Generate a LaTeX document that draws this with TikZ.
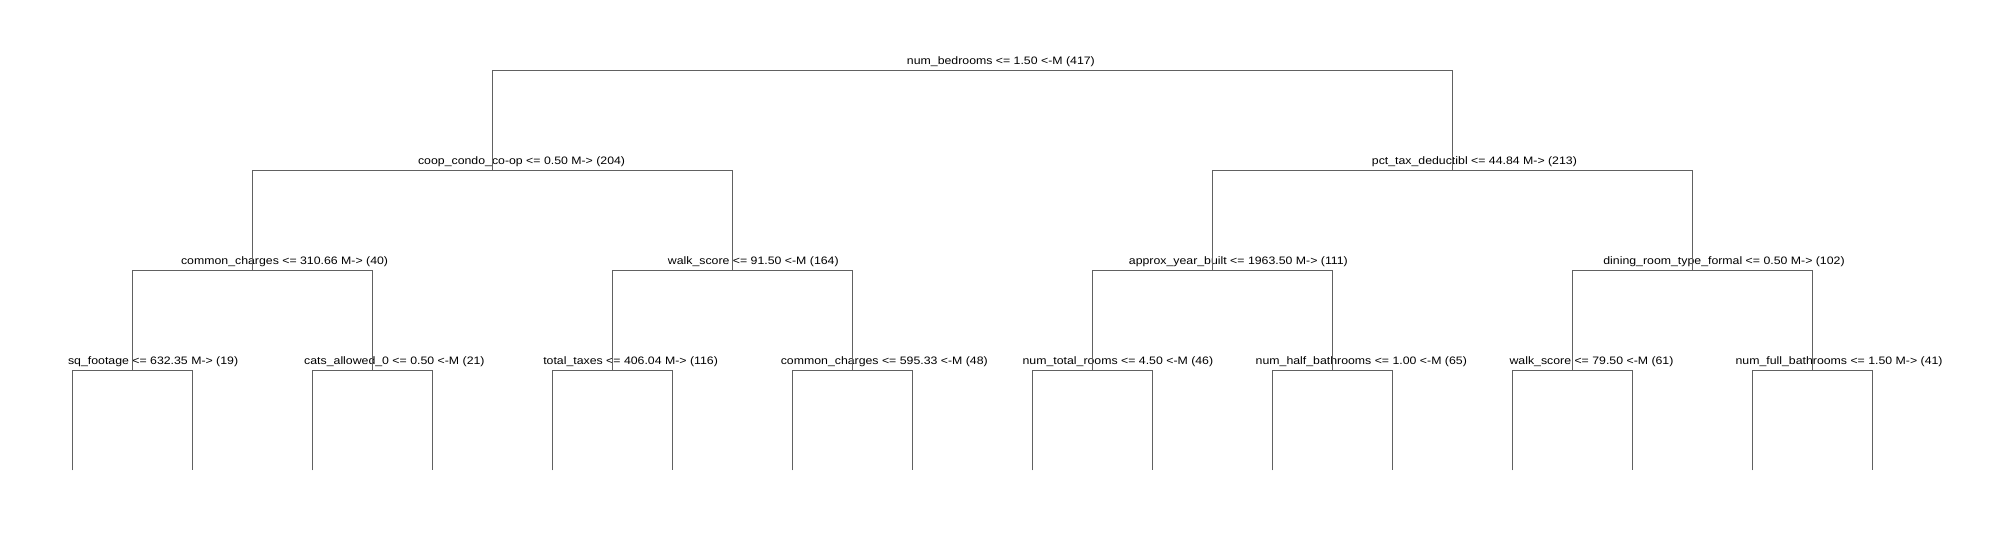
\documentclass[tikz,border=0pt]{standalone}
\usepackage{fontspec}
\setmainfont{Liberation Sans}[FakeStretch=1.14]
\usetikzlibrary{positioning}

\tikzset{
	branch/.style={draw=black!62,line width=1pt},
	split/.style={anchor=base,inner sep=0pt,font=\fontsize{10.8}{12}\selectfont}
}

\begin{document}
\begin{tikzpicture}[x=1pt,y=-1pt]
	\useasboundingbox (0,0) rectangle (2011,540);
	% split points
	\coordinate (root) at (972.3,70.3);
	\coordinate (coop) at (492.3,170.3);
	\coordinate (taxded) at (1452.3,170.3);
	\coordinate (charges1) at (252.3,270.3);
	\coordinate (walk1) at (732.3,270.3);
	\coordinate (yearbuilt) at (1212.3,270.3);
	\coordinate (dining) at (1692.3,270.3);
	\coordinate (sqft) at (132.3,370.3);
	\coordinate (cats) at (372.3,370.3);
	\coordinate (taxes) at (612.3,370.3);
	\coordinate (charges2) at (852.3,370.3);
	\coordinate (rooms) at (1092.3,370.3);
	\coordinate (halfbath) at (1332.3,370.3);
	\coordinate (walk2) at (1572.3,370.3);
	\coordinate (fullbath) at (1812.3,370.3);
	\foreach \i in {1,...,16}
		\coordinate (leaf\i) at ({72.3+120*(\i-1)},470.4);
	
	% labels
	\node[split] at (1000.9,64.8) (t-root) {num\_bedrooms <= 1.50 <-M (417)};
	\node[split] at (521.6,164.8) (t-coop) {coop\_condo\_co-op <= 0.50 M-> (204)};
	\node[split] at (1474.4,164.8) (t-taxded) {pct\_tax\_deductibl <= 44.84 M-> (213)};
	\node[split] at (284.6,264.8) (t-charges1) {common\_charges <= 310.66 M-> (40)};
	\node[split] at (753.3,264.8) (t-walk1) {walk\_score <= 91.50 <-M (164)};
	\node[split] at (1238.4,264.8) (t-yearbuilt) {approx\_year\_built <= 1963.50 M-> (111)};
	\node[split] at (1724,264.8) (t-dining) {dining\_room\_type\_formal <= 0.50 M-> (102)};
	\node[split] at (153.1,364.8) (t-sqft) {sq\_footage <= 632.35 M-> (19)};
	\node[split] at (394.4,364.8) (t-cats) {cats\_allowed\_0 <= 0.50 <-M (21)};
	\node[split] at (630.6,364.8) (t-taxes) {total\_taxes <= 406.04 M-> (116)};
	\node[split] at (884.3,364.8) (t-charges2) {common\_charges <= 595.33 <-M (48)};
	\node[split] at (1117.9,364.8) (t-rooms) {num\_total\_rooms <= 4.50 <-M (46)};
	\node[split] at (1361.3,364.8) (t-halfbath) {num\_half\_bathrooms <= 1.00 <-M (65)};
	\node[split] at (1591.5,364.8) (t-walk2) {walk\_score <= 79.50 <-M (61)};
	\node[split] at (1839.1,364.8) (t-fullbath) {num\_full\_bathrooms <= 1.50 M-> (41)};
	
	% branches
	\draw[branch] (coop) |- (root) -| (taxded);
	\draw[branch] (charges1) |- (coop) -| (walk1);
	\draw[branch] (yearbuilt) |- (taxded) -| (dining);
	\draw[branch] (sqft) |- (charges1) -| (cats);
	\draw[branch] (taxes) |- (walk1) -| (charges2);
	\draw[branch] (rooms) |- (yearbuilt) -| (halfbath);
	\draw[branch] (walk2) |- (dining) -| (fullbath);
	\draw[branch] (leaf1) |- (sqft) -| (leaf2);
	\draw[branch] (leaf3) |- (cats) -| (leaf4);
	\draw[branch] (leaf5) |- (taxes) -| (leaf6);
	\draw[branch] (leaf7) |- (charges2) -| (leaf8);
	\draw[branch] (leaf9) |- (rooms) -| (leaf10);
	\draw[branch] (leaf11) |- (halfbath) -| (leaf12);
	\draw[branch] (leaf13) |- (walk2) -| (leaf14);
	\draw[branch] (leaf15) |- (fullbath) -| (leaf16);
\end{tikzpicture}
\end{document}
